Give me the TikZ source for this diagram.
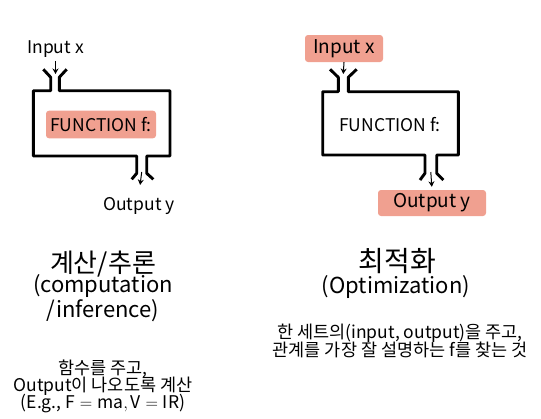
\documentclass[tikz,border=0pt]{standalone}
\usepackage{fontspec}
\setmainfont{Noto Sans CJK KR}
\usetikzlibrary{arrows.meta}

\definecolor{salmon}{RGB}{240,160,144}
\tikzset{
  frame/.style={line width=2.9pt,line join=round},
  feed/.style={->,line width=1pt},
  hilite/.style={fill=salmon,rounded corners=3pt,inner sep=0pt},
  io/.style={font=\fontsize{17.5}{20}\selectfont},
  fn/.style={font=\fontsize{17.5}{20}\selectfont},
  head/.style={font=\fontsize{26}{30}\selectfont},
  sub/.style={font=\fontsize{22}{25}\selectfont,align=center},
  desc/.style={font=\fontsize{17.5}{18.5}\selectfont,align=center}
}

\begin{document}
\begin{tikzpicture}[x=1pt,y=-1pt,>={Stealth[length=5.5pt,width=6pt]}]
  \useasboundingbox (0,0) rectangle (541,418);
  % computation / inference
  \draw[frame] (43.3,69.3)--(50.7,77.3)--(50.7,90.7)--(33.3,90.7)--(33.3,156)
    --(136.7,156)--(136.7,173.3)--(131.7,179.3);
  \draw[frame] (66.7,69.3)--(59.3,77.3)--(59.3,90.7)--(170,90.7)--(170,156)
    --(146.7,156)--(146.7,173.3)--(153.3,179.3);
  \node[io] (inL) at (55.5,49) {Input x};
  \coordinate (inLtip) at (55.5,74);
  \draw[feed] (inL.south)--(inLtip);
  \node[fn,hilite,minimum width=110pt,minimum height=27.6pt] (fnL) at (101,124.5) {FUNCTION f:};
  \coordinate (outLbase) at (141.7,172);
  \node[io] (outL) at (139,206) {Output y};
  \draw[feed,shorten >=9pt] (outLbase)--(outL.north);
  \node[head] (headL) at (103,264) {계산/추론};
  \node[sub] (subL) at (103,298.5) {(computation\\/inference)};
  \node[desc] (descL) at (103,386) {함수를 주고,\\[-1.5pt]Output이 나오도록 계산\\[-1.5pt](E.g., $\mathrm{F=ma, V=IR}$)};
  % optimization
  \draw[frame] (330,69.3)--(338.3,77.3)--(338.3,91.7)--(322.7,91.7)--(322.7,155)
    --(425,155)--(425,173.3)--(420,180);
  \draw[frame] (356.7,69.3)--(348.3,77.3)--(348.3,91.7)--(458.3,91.7)--(458.3,155)
    --(436.7,155)--(436.7,173.3)--(443.3,180);
  \node[io,hilite,minimum width=78pt,minimum height=27pt,font=\fontsize{19}{21}\selectfont] (inR) at (344,48.5) {Input x};
  \coordinate (inRtip) at (343.3,74);
  \draw[feed] (inR.south)--(inRtip);
  \node[fn] (fnR) at (390,125) {FUNCTION f:};
  \coordinate (outRbase) at (430.8,172);
  \node[io,hilite,minimum width=108pt,minimum height=26pt,font=\fontsize{19}{21}\selectfont] (outR) at (432,203) {Output y};
  \draw[feed,shorten >=3pt] (outRbase)--(outR.north);
  \node[head,font=\fontsize{28}{30}\selectfont] (headR) at (397.5,261) {최적화};
  \node[sub] (subR) at (396,287) {(Optimization)};
  \node[desc,font=\fontsize{17.5}{17}\selectfont] (descR) at (400,341) {한 세트의(input, output)을 주고,\\[-1.5pt]관계를 가장 잘 설명하는 f를 찾는 것};
\end{tikzpicture}
\end{document}
